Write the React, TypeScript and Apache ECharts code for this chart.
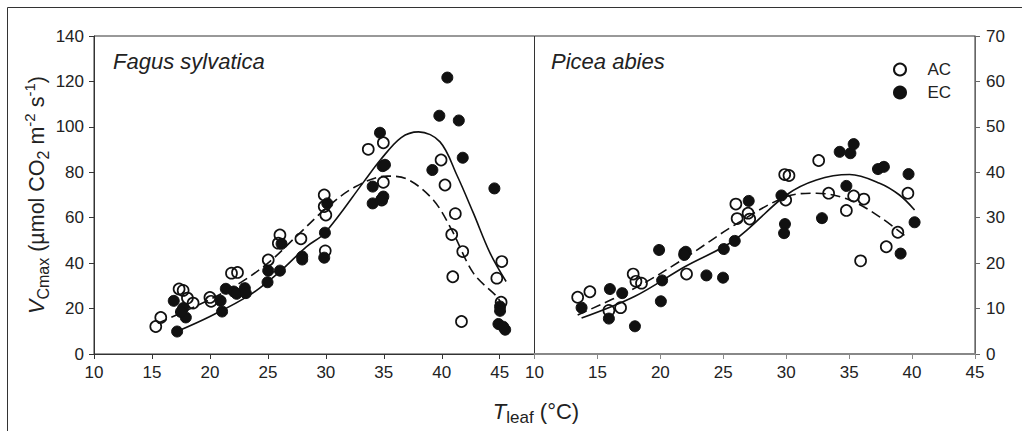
import React, { useEffect, useRef } from 'react';
import * as echarts from 'echarts';

const FONT = "'Liberation Sans', Arial, Helvetica, sans-serif";

const xTicks = [10, 15, 20, 25, 30, 35, 40, 45];
const fagusYTicks = { min: 0, max: 140, interval: 20 };
const piceaYTicks = { min: 0, max: 70, interval: 10 };

// Fagus sylvatica (left panel) – T leaf (°C), Vcmax
const fagusAC: number[][] = [
  [15.33, 12.1], [15.76, 16.1], [17.34, 28.6], [17.69, 28.0], [18.06, 24.6], [18.55, 22.4],
  [20.0, 24.9], [20.1, 23.2], [21.86, 35.6], [22.38, 35.9], [25.03, 41.4], [26.04, 52.4],
  [25.9, 48.8], [27.85, 50.7], [29.86, 70.0], [29.86, 64.9], [30.0, 61.2], [29.95, 45.4],
  [33.66, 90.1], [34.96, 93.0], [34.96, 75.6], [34.82, 67.8], [39.94, 85.4], [40.28, 74.4],
  [41.17, 61.8], [40.86, 52.6], [41.81, 45.1], [40.95, 34.0], [41.7, 14.3], [45.18, 40.7],
  [44.75, 33.4], [45.12, 22.8]
];
const fagusEC: number[][] = [
  [17.17, 9.9], [16.88, 23.4], [17.69, 20.2], [17.92, 16.1], [17.5, 18.5], [20.92, 23.4],
  [21.05, 18.7], [21.37, 28.7], [22.06, 27.5], [22.3, 26.5], [23.01, 29.0], [23.1, 26.8],
  [25.03, 36.7], [24.97, 31.6], [26.04, 36.7], [26.18, 48.5], [27.96, 42.9], [27.96, 41.6],
  [29.92, 53.4], [30.12, 66.3], [29.86, 42.4], [34.67, 97.4], [34.9, 82.7], [35.1, 83.3],
  [34.04, 73.7], [34.04, 66.3], [34.96, 69.3], [34.8, 68.0], [40.48, 121.7], [39.79, 104.9],
  [41.47, 102.8], [41.81, 86.4], [39.19, 81.0], [44.54, 72.9], [45.03, 20.9], [45.03, 19.0],
  [44.89, 13.2], [45.47, 10.7], [45.3, 12.0]
];
const fagusACFit: number[][] = [
  [15.5, 13.5], [20, 24], [22.5, 31], [25, 40], [27.5, 52], [30, 64], [32.5, 73.5],
  [35.3, 78.3], [37, 77], [39.27, 67.8], [40.86, 54.6], [42.73, 35.6], [44.75, 25.3], [45.1, 22.5]
];
const fagusECFit: number[][] = [
  [17.2, 10], [20, 16.5], [23.45, 26], [26.04, 36.3], [28.34, 47.3], [29.92, 53.3],
  [33.3, 76], [34.7, 85.4], [36.5, 95.3], [38, 97.8], [39.85, 93.4], [41.3, 78.8],
  [42.73, 62], [44.17, 44.4], [45.55, 31.9]
];

// Picea abies (right panel)
const piceaAC: number[][] = [
  [13.43, 12.5], [14.4, 13.7], [15.91, 9.6], [16.84, 10.2], [17.84, 17.6], [18.06, 16.0],
  [18.5, 15.6], [22.08, 17.6], [21.94, 22.2], [26.0, 33.0], [26.1, 29.8], [26.97, 31.0],
  [27.1, 29.7], [29.88, 39.5], [30.22, 39.3], [29.96, 33.9], [32.58, 42.6], [33.37, 35.4],
  [34.78, 31.6], [35.36, 34.8], [36.17, 34.1], [35.91, 20.5], [37.95, 23.6], [38.87, 26.8],
  [39.67, 35.4]
];
const piceaEC: number[][] = [
  [13.74, 10.2], [15.99, 14.3], [16.97, 13.4], [15.91, 7.8], [17.98, 6.1], [19.9, 22.9],
  [20.04, 11.6], [20.14, 16.2], [22.02, 22.5], [21.9, 21.8], [23.66, 17.3], [24.98, 16.8],
  [25.04, 23.1], [25.91, 24.9], [27.02, 33.7], [29.62, 34.9], [29.9, 28.6], [29.83, 26.6],
  [32.84, 29.9], [34.25, 44.5], [35.1, 44.2], [35.36, 46.2], [34.78, 37.0], [37.29, 40.7],
  [37.76, 41.2], [39.09, 22.1], [39.72, 39.6], [40.2, 29.0]
];
const piceaACFit: number[][] = [
  [13.43, 8.6], [17.98, 14.5], [21.94, 21.1], [25.9, 28.4], [30.0, 34.6], [32.4, 35.4],
  [35.04, 33.9], [37.42, 30.2], [39.54, 25.8]
];
const piceaECFit: number[][] = [
  [13.74, 7.9], [17.98, 12.7], [21.94, 19.2], [25.9, 25.1], [30.01, 35], [32.4, 38.3],
  [35.04, 39.5], [37.42, 37.6], [39.0, 35], [40.2, 31.7]
];

const INK = '#111111';
const LABEL = '#222';

const openStyle = { color: 'rgba(255,255,255,0)', borderColor: INK, borderWidth: 1.7, opacity: 1 };
const filledStyle = { color: INK, borderColor: INK, borderWidth: 1, opacity: 1 };

function scatter(name: string, data: number[][], idx: number, open: boolean) {
  return {
    name, type: 'scatter', xAxisIndex: idx, yAxisIndex: idx, data,
    symbol: 'circle', symbolSize: 11, itemStyle: open ? openStyle : filledStyle,
    z: open ? 4 : 3, silent: true
  };
}
function fit(name: string, data: number[][], idx: number, dashed: boolean) {
  return {
    name, type: 'line', xAxisIndex: idx, yAxisIndex: idx, data, smooth: 0.35,
    showSymbol: false, symbol: 'none', silent: true, z: 2,
    lineStyle: { color: INK, width: 1.6, type: dashed ? [10, 5] : 'solid' }
  };
}

const subRich = {
  i: { fontStyle: 'italic', fontSize: 21.5, lineHeight: 30, color: LABEL, fontFamily: FONT },
  sub: { fontSize: 16, lineHeight: 16, verticalAlign: 'bottom', color: LABEL, fontFamily: FONT },
  sup: { fontSize: 15, lineHeight: 15, verticalAlign: 'top', color: LABEL, fontFamily: FONT }
};

export default function App() {
  const ref = useRef<HTMLDivElement>(null);
  useEffect(() => {
    if (!ref.current) return;
    const chart = echarts.init(ref.current, undefined, { renderer: 'svg' });
    const xAxisBase = (idx: number, max: number, color: string, width: number) => ({
      gridIndex: idx, type: 'value', min: 10, max, interval: 5,
      axisLine: { show: true, lineStyle: { color, width } },
      axisTick: { show: true, length: 5, customValues: xTicks, lineStyle: { color, width: 1 } },
      axisLabel: {
        customValues: xTicks, fontSize: 17, color: LABEL, margin: 10, fontFamily: FONT,
        formatter: (v: number) => (v > 45 ? '' : String(v))
      },
      splitLine: { show: false }
    });
    const titleStyle = { fontStyle: 'italic', fontWeight: 'normal', fontSize: 22, color: LABEL, fontFamily: FONT };
    const option: any = {
      animation: false,
      backgroundColor: '#ffffff',
      textStyle: { fontFamily: FONT },
      title: [
        { text: 'Fagus sylvatica', left: 108, top: 45, textStyle: titleStyle },
        { text: 'Picea abies', left: 546, top: 45, textStyle: titleStyle }
      ],
      legend: {
        data: ['AC', 'EC'], orient: 'vertical', left: 888, top: 56,
        itemWidth: 45, itemHeight: 12, itemGap: 6, selectedMode: false,
        textStyle: { fontSize: 17, color: LABEL, fontFamily: FONT }
      },
      grid: [
        { left: 94, top: 36, width: 440.5, height: 318, show: true, borderColor: '#333', borderWidth: 1, backgroundColor: 'transparent' },
        { left: 534.5, top: 36, width: 440.5, height: 318, show: true, borderColor: '#333', borderWidth: 1, backgroundColor: 'transparent' }
      ],
      xAxis: [xAxisBase(0, 48, '#333', 1), xAxisBase(1, 45, '#888', 2)],
      yAxis: [
        {
          gridIndex: 0, type: 'value', ...fagusYTicks,
          name: '{i|V}{sub|Cmax} (µmol CO{sub|2} m{sup|-2} s{sup|-1})',
          nameLocation: 'middle', nameGap: 41, nameRotate: 90,
          nameTextStyle: { fontSize: 21.5, lineHeight: 30, color: LABEL, fontFamily: FONT, rich: subRich },
          axisLine: { show: true, lineStyle: { color: '#333' } },
          axisTick: { show: true, length: 5, lineStyle: { color: '#333' } },
          axisLabel: { fontSize: 17, color: LABEL, margin: 10, fontFamily: FONT },
          splitLine: { show: false }
        },
        {
          gridIndex: 1, type: 'value', position: 'right', ...piceaYTicks,
          axisLine: { show: true, lineStyle: { color: '#666' } },
          axisTick: { show: true, length: 5, lineStyle: { color: '#666' } },
          axisLabel: { fontSize: 17, color: LABEL, margin: 11, fontFamily: FONT },
          splitLine: { show: false }
        }
      ],
      graphic: [
        {
          type: 'rect', shape: { x: 7.5, y: 7.5, width: 1200, height: 600 },
          style: { fill: 'none', stroke: '#333', lineWidth: 1 }, silent: true
        },
        {
          type: 'text', x: 536, y: 411, silent: true,
          style: {
            text: '{i|T}{sub|leaf} (°C)', align: 'center', verticalAlign: 'middle',
            fontSize: 22, lineHeight: 30, fill: LABEL, fontFamily: FONT,
            rich: {
              i: { fontStyle: 'italic', fontSize: 22, lineHeight: 30, fill: LABEL, fontFamily: FONT },
              sub: { fontSize: 17, lineHeight: 16, verticalAlign: 'bottom', fill: LABEL, fontFamily: FONT }
            }
          }
        }
      ],
      series: [
        fit('EC fit Fagus', fagusECFit, 0, false),
        fit('AC fit Fagus', fagusACFit, 0, true),
        scatter('EC', fagusEC, 0, false),
        scatter('AC', fagusAC, 0, true),
        fit('EC fit Picea', piceaECFit, 1, false),
        fit('AC fit Picea', piceaACFit, 1, true),
        scatter('EC', piceaEC, 1, false),
        scatter('AC', piceaAC, 1, true)
      ]
    };
    chart.setOption(option);
    return () => chart.dispose();
  }, []);
  return (
    <div
      ref={ref}
      style={{ position: 'fixed', left: 0, top: 0, width: 1022, height: 431, background: '#fff' }}
    />
  );
}
